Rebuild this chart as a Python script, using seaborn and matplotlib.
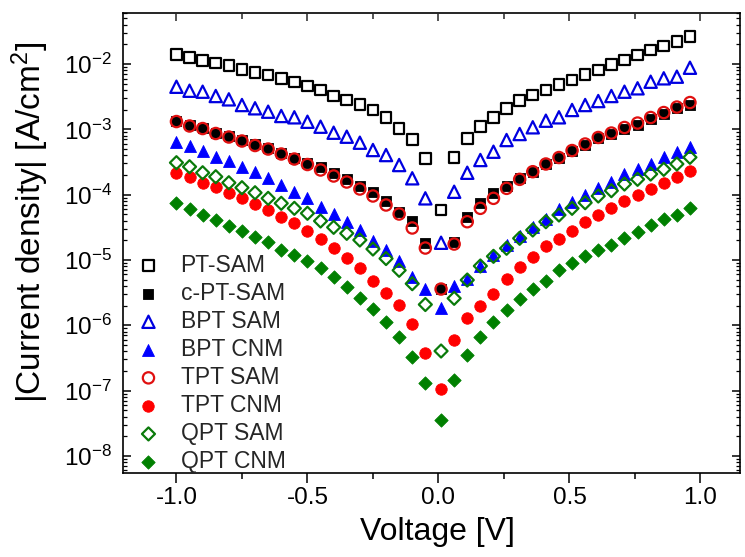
import numpy as np
import pandas as pd
import matplotlib
matplotlib.use("Agg")
import matplotlib.pyplot as plt
from matplotlib.ticker import (MultipleLocator, LogLocator, NullFormatter,
                               LogFormatterSciNotation, FixedLocator)
import seaborn as sns

# ---------------- data ----------------
voltage = [-1.00, -0.95, -0.90, -0.85, -0.80, -0.75, -0.70, -0.65, -0.60, -0.55,
           -0.50, -0.45, -0.40, -0.35, -0.30, -0.25, -0.20, -0.15, -0.10, -0.05,
           0.01, 0.06, 0.11, 0.16, 0.21, 0.26, 0.31, 0.36, 0.41, 0.46,
           0.51, 0.56, 0.61, 0.66, 0.71, 0.76, 0.81, 0.86, 0.91, 0.96]

series_names = ["PT-SAM", "c-PT-SAM", "BPT SAM", "BPT CNM",
                "TPT SAM", "TPT CNM", "QPT SAM", "QPT CNM"]

# log10 of |current density| in A/cm^2
log_pt_sam = [-1.851, -1.904, -1.943, -1.985, -2.020, -2.087, -2.127, -2.168, -2.225, -2.276,
              -2.337, -2.398, -2.490, -2.551, -2.617, -2.704, -2.816, -2.985, -3.153, -3.444,
              -4.236, -3.435, -3.138, -2.960, -2.816, -2.678, -2.562, -2.475, -2.398, -2.317,
              -2.245, -2.158, -2.092, -2.005, -1.939, -1.862, -1.786, -1.724, -1.652, -1.582]
log_cpt_sam = [-2.868, -2.939, -2.975, -3.052, -3.103, -3.164, -3.230, -3.282, -3.358, -3.435,
               -3.511, -3.573, -3.669, -3.761, -3.868, -3.960, -4.098, -4.266, -4.404, -4.741,
               -5.450, -4.721, -4.338, -4.133, -3.971, -3.864, -3.750, -3.649, -3.531, -3.435,
               -3.332, -3.240, -3.138, -3.077, -2.995, -2.934, -2.847, -2.770, -2.678, -2.628]
log_bpt_sam = [-2.348, -2.409, -2.424, -2.490, -2.541, -2.628, -2.678, -2.730, -2.796, -2.816,
               -2.884, -2.960, -3.052, -3.113, -3.205, -3.317, -3.394, -3.547, -3.750, -4.057,
               -4.737, -3.956, -3.665, -3.470, -3.343, -3.164, -3.072, -2.969, -2.868, -2.816,
               -2.704, -2.628, -2.567, -2.490, -2.424, -2.372, -2.271, -2.219, -2.194, -2.057]
log_bpt_cnm = [-3.190, -3.256, -3.332, -3.420, -3.485, -3.573, -3.649, -3.750, -3.853, -3.956,
               -4.057, -4.194, -4.302, -4.415, -4.542, -4.711, -4.848, -5.017, -5.262, -5.446,
               -5.741, -5.404, -5.285, -5.098, -4.920, -4.767, -4.634, -4.492, -4.378, -4.225,
               -4.109, -4.006, -3.904, -3.802, -3.685, -3.613, -3.531, -3.429, -3.352, -3.266]
log_tpt_sam = [-2.881, -2.949, -2.988, -3.064, -3.118, -3.179, -3.248, -3.302, -3.378, -3.455,
               -3.539, -3.623, -3.715, -3.807, -3.914, -4.021, -4.159, -4.297, -4.511, -4.818,
               -5.446, -4.757, -4.415, -4.210, -4.057, -3.904, -3.766, -3.649, -3.531, -3.432,
               -3.325, -3.225, -3.125, -3.057, -2.972, -2.904, -2.819, -2.743, -2.659, -2.590]
log_tpt_cnm = [-3.665, -3.723, -3.818, -3.888, -3.971, -4.057, -4.144, -4.236, -4.338, -4.440,
               -4.553, -4.685, -4.818, -4.976, -5.129, -5.319, -5.507, -5.691, -5.985, -6.421,
               -6.974, -6.222, -5.887, -5.706, -5.522, -5.297, -5.116, -4.960, -4.787, -4.685,
               -4.553, -4.415, -4.312, -4.210, -4.093, -4.006, -3.919, -3.827, -3.735, -3.634]
log_qpt_sam = [-3.511, -3.573, -3.665, -3.726, -3.818, -3.894, -3.971, -4.057, -4.133, -4.210,
               -4.286, -4.404, -4.501, -4.593, -4.695, -4.833, -4.979, -5.159, -5.364, -5.683,
               -6.395, -5.588, -5.308, -5.093, -4.945, -4.822, -4.669, -4.542, -4.415, -4.312,
               -4.210, -4.124, -4.021, -3.940, -3.838, -3.766, -3.685, -3.613, -3.531, -3.429]
log_qpt_cnm = [-4.133, -4.225, -4.312, -4.389, -4.481, -4.553, -4.645, -4.729, -4.844, -4.925,
               -5.024, -5.124, -5.266, -5.420, -5.579, -5.756, -5.946, -6.181, -6.487, -6.881,
               -7.452, -6.839, -6.456, -6.181, -5.946, -5.767, -5.599, -5.446, -5.319, -5.155,
               -5.047, -4.945, -4.853, -4.764, -4.665, -4.568, -4.466, -4.378, -4.312, -4.210]

x_tick_values = [-1.0, -0.5, 0.0, 0.5, 1.0]
x_tick_labels = ["-1.0", "-0.5", "0.0", "0.5", "1.0"]
y_major_ticks = [1e-8, 1e-7, 1e-6, 1e-5, 1e-4, 1e-3, 1e-2]

# ---------------- assemble long-form table ----------------
all_logs = [log_pt_sam, log_cpt_sam, log_bpt_sam, log_bpt_cnm,
            log_tpt_sam, log_tpt_cnm, log_qpt_sam, log_qpt_cnm]
frames = []
for name, logs in zip(series_names, all_logs):
    frames.append(pd.DataFrame({"Voltage": voltage,
                                "J": 10.0 ** np.asarray(logs),
                                "Sample": name}))
df = pd.concat(frames, ignore_index=True)

# marker, colour, filled, size (pt^2)
styles = {
    "PT-SAM":   ("s", "#000000", False, 58),
    "c-PT-SAM": ("s", "#000000", True, 58),
    "BPT SAM":  ("^", "#0000e0", False, 78),
    "BPT CNM":  ("^", "#0000ff", True, 74),
    "TPT SAM":  ("o", "#e01010", False, 66),
    "TPT CNM":  ("o", "#ff0000", True, 68),
    "QPT SAM":  ("D", "#0a7a0a", False, 44),
    "QPT CNM":  ("D", "#008000", True, 46),
}

# ---------------- styling ----------------
sns.set_theme(style="ticks")
plt.rcParams["font.family"] = ["Liberation Sans", "DejaVu Sans"]
plt.rcParams["axes.unicode_minus"] = False
plt.rcParams["mathtext.fontset"] = "custom"
plt.rcParams["mathtext.rm"] = "Liberation Sans"
plt.rcParams["mathtext.it"] = "Liberation Sans:italic"
plt.rcParams["mathtext.bf"] = "Liberation Sans:bold"

W, H = 745, 557
fig = plt.figure(figsize=(W / 100, H / 100), dpi=100)
fig.patch.set_facecolor("white")
ax = fig.add_axes([123 / W, 1 - 473 / H, (740 - 123) / W, (473 - 12.5) / H])
ax.set_facecolor("white")

for name in series_names:
    marker, col, filled, size = styles[name]
    sub = df[df["Sample"] == name]
    if filled:
        sns.scatterplot(data=sub, x="Voltage", y="J", ax=ax, marker=marker, s=size,
                        color=col, edgecolor=col, linewidth=0.6, label=name, zorder=3)
    else:
        sns.scatterplot(data=sub, x="Voltage", y="J", ax=ax, marker=marker, s=size,
                        facecolor="none", edgecolor=col, linewidth=1.6, label=name, zorder=3)

ax.set_yscale("log")
ax.set_xlim(-1.204, 1.151)
ax.set_ylim(10 ** -8.263, 10 ** -1.211)

ax.xaxis.set_minor_locator(MultipleLocator(0.25))
ax.set_xticks(x_tick_values)
ax.set_xticklabels(x_tick_labels)
ax.yaxis.set_major_locator(FixedLocator(y_major_ticks))
ax.yaxis.set_major_formatter(LogFormatterSciNotation())
ax.yaxis.set_minor_locator(LogLocator(base=10, subs=np.arange(2, 10), numticks=20))
ax.yaxis.set_minor_formatter(NullFormatter())

for sp in ax.spines.values():
    sp.set_visible(True)
    sp.set_linewidth(1.2)
    sp.set_color("black")

ax.tick_params(axis="x", which="both", direction="out", bottom=True, top=False,
               labelsize=17.5, colors="black", pad=3)
ax.tick_params(axis="x", which="major", length=7, width=1.1)
ax.tick_params(axis="x", which="minor", length=4, width=1.1)
ax.tick_params(axis="y", which="both", direction="in", left=True, right=True,
               labelsize=17.5, colors="black", pad=8)
ax.tick_params(axis="y", which="major", length=6, width=1.1)
ax.tick_params(axis="y", which="minor", length=3, width=0.9)

# inward ticks along the top edge (twin shares the y axis, which it hides)
top = ax.twiny()
top.set_xlim(ax.get_xlim())
top.xaxis.set_major_locator(FixedLocator(x_tick_values))
top.xaxis.set_minor_locator(MultipleLocator(0.25))
top.tick_params(axis="x", which="both", direction="in", top=True, bottom=False,
                labeltop=False, labelbottom=False)
top.tick_params(axis="x", which="major", length=6, width=1.1)
top.tick_params(axis="x", which="minor", length=4, width=1.1)
for sp in top.spines.values():
    sp.set_visible(False)

ax.set_xlabel("Voltage [V]", fontsize=23, color="black")
ax.set_ylabel("|Current density| [A/cm$^2$]", fontsize=24, color="black")
ax.xaxis.set_label_coords(0.509, -0.096)
ax.yaxis.set_label_coords(-0.117, 0.545)

handles, labels = ax.get_legend_handles_labels()
ax.legend(handles, labels, loc="lower left", bbox_to_anchor=(0.0227, 0.0),
          frameon=False, fontsize=16.5, handlelength=1.0, handletextpad=0.9,
          labelspacing=0.22, borderpad=0, borderaxespad=0)

fig.savefig("out.png", dpi=100, facecolor="white")
